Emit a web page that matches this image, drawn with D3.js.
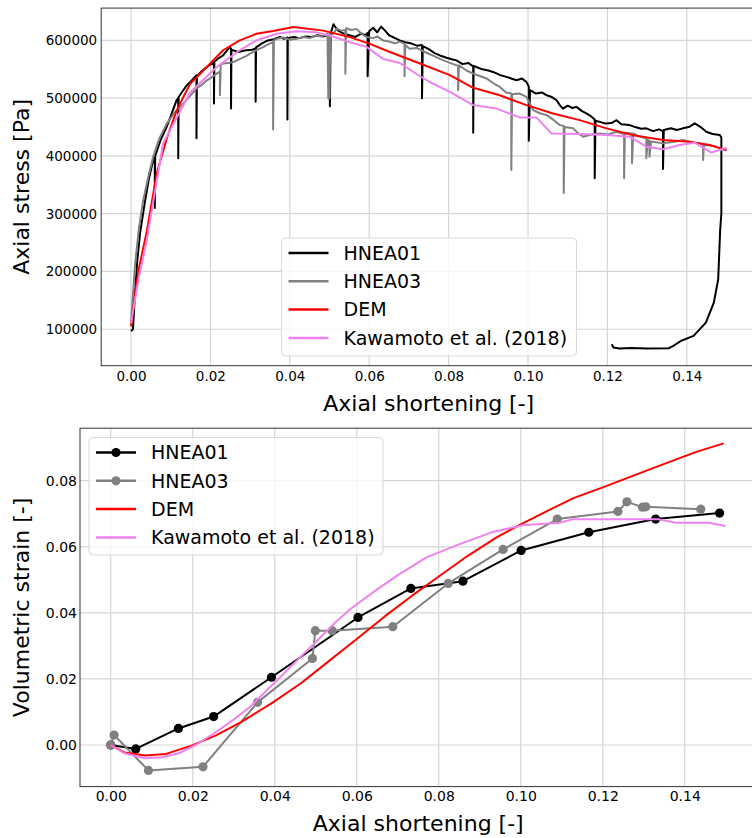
<!DOCTYPE html>
<html>
<head>
<meta charset="utf-8">
<script src="https://cdn.jsdelivr.net/npm/d3@7"></script>
<style>
  body { margin: 0; background: #fff; }
  svg text { font-family: "DejaVu Sans", sans-serif; fill: #000; }
</style>
</head>
<body>
<div id="chart"></div>
<script>
// ---- data: top panel, axial stress [Pa] vs axial shortening [-]
var stressHNEA01 = [
  [0.0000, 97000], [0.0005, 100000], [0.0010, 160000], [0.0016, 220000], [0.0023, 267000],
  [0.0035, 320000], [0.0045, 360000], [0.0056, 393000], [0.0060, 398000], [0.0060, 310000],
  [0.0061, 400000], [0.0075, 428000], [0.0090, 450500], [0.0105, 478000], [0.0115, 496500],
  [0.0119, 500000], [0.0119, 396000], [0.0120, 502000], [0.0130, 512000], [0.0140, 522000],
  [0.0152, 530000], [0.0165, 539700], [0.0165, 430500], [0.0166, 538000], [0.0180, 548000],
  [0.0195, 556000], [0.0209, 562000], [0.0209, 491000], [0.0210, 563000], [0.0222, 570000],
  [0.0232, 574000], [0.0248, 588000], [0.0252, 586000], [0.0252, 482000], [0.0253, 584000],
  [0.0270, 580000], [0.0290, 583000], [0.0305, 584000], [0.0314, 586000], [0.0314, 494000],
  [0.0315, 588000], [0.0330, 595000], [0.0345, 600000], [0.0360, 602000], [0.0375, 606000],
  [0.0385, 603000], [0.0394, 605000], [0.0394, 463000], [0.0395, 604000], [0.0410, 606000],
  [0.0425, 604000], [0.0440, 607000], [0.0455, 606000], [0.0470, 609000], [0.0485, 607000],
  [0.0500, 610000], [0.0501, 486000], [0.0503, 612000], [0.0510, 628000], [0.0520, 618000],
  [0.0535, 612000], [0.0550, 609000], [0.0565, 606000], [0.0580, 612000], [0.0590, 609000],
  [0.0596, 613000], [0.0596, 538000], [0.0600, 616000], [0.0610, 622000], [0.0620, 614000],
  [0.0630, 624000], [0.0640, 617000], [0.0650, 609000], [0.0665, 604000], [0.0677, 600000],
  [0.0690, 597000], [0.0705, 595000], [0.0720, 591000], [0.0733, 592000], [0.0733, 500000],
  [0.0735, 590000], [0.0750, 585000], [0.0765, 578000], [0.0778, 574000], [0.0795, 570000],
  [0.0810, 567000], [0.0820, 565500], [0.0835, 559000], [0.0850, 561000], [0.0862, 555000],
  [0.0862, 440000], [0.0863, 556000], [0.0870, 554000], [0.0885, 550000], [0.0900, 548000],
  [0.0912, 545500], [0.0930, 540000], [0.0950, 536000], [0.0971, 531000], [0.0985, 534000],
  [0.0996, 528000], [0.1002, 520000], [0.1002, 426500], [0.1005, 514000], [0.1020, 508000],
  [0.1035, 510000], [0.1047, 505000], [0.1060, 502000], [0.1072, 496500], [0.1080, 488000],
  [0.1088, 482000], [0.1100, 487000], [0.1112, 483000], [0.1122, 485000], [0.1135, 478000],
  [0.1147, 473600], [0.1160, 468000], [0.1168, 463000], [0.1168, 361500], [0.1170, 461000],
  [0.1181, 459000], [0.1195, 456000], [0.1210, 457000], [0.1223, 462000], [0.1235, 455000],
  [0.1256, 453400], [0.1270, 450000], [0.1285, 447000], [0.1298, 447800], [0.1315, 443000],
  [0.1330, 446000], [0.1340, 443000], [0.1340, 377500], [0.1342, 445000], [0.1360, 448000],
  [0.1375, 445000], [0.1390, 447800], [0.1405, 450000], [0.1420, 456400], [0.1435, 450000],
  [0.1449, 442000], [0.1465, 438000], [0.1483, 436200], [0.1487, 432000], [0.1487, 300000],
  [0.1484, 272000], [0.1479, 186000], [0.1468, 146000], [0.1448, 111500], [0.1417, 88500],
  [0.1386, 80000], [0.1366, 71300], [0.1355, 67200], [0.1300, 66500], [0.1260, 67500],
  [0.1230, 66800], [0.1215, 68400], [0.1211, 74000]
];
var stressHNEA03 = [
  [0.0000, 110000], [0.0004, 150000], [0.0010, 210000], [0.0020, 275000], [0.0031, 324000],
  [0.0045, 368000], [0.0056, 398800], [0.0070, 428000], [0.0090, 456000], [0.0110, 475000],
  [0.0132, 491000], [0.0150, 505000], [0.0165, 516700], [0.0180, 524000], [0.0191, 531000],
  [0.0205, 537000], [0.0216, 542500], [0.0224, 546000], [0.0224, 505000], [0.0226, 558000],
  [0.0232, 560000], [0.0245, 561000], [0.0258, 562600], [0.0275, 568000], [0.0290, 573000],
  [0.0300, 577000], [0.0315, 583000], [0.0333, 588500], [0.0350, 595000], [0.0358, 597000],
  [0.0358, 446000], [0.0360, 600000], [0.0367, 602800], [0.0385, 605000], [0.0400, 601000],
  [0.0417, 602800], [0.0435, 606000], [0.0450, 604000], [0.0467, 608600], [0.0480, 607000],
  [0.0495, 611500], [0.0497, 500000], [0.0499, 605000], [0.0500, 500000], [0.0502, 610000],
  [0.0510, 612000], [0.0518, 620000], [0.0530, 617000], [0.0540, 618000], [0.0540, 542500],
  [0.0542, 621000], [0.0555, 618000], [0.0568, 620000], [0.0580, 612000], [0.0593, 606000],
  [0.0610, 604000], [0.0620, 607000], [0.0635, 600000], [0.0650, 598000], [0.0665, 595000],
  [0.0677, 598000], [0.0689, 594000], [0.0689, 538000], [0.0691, 592000], [0.0702, 585700],
  [0.0720, 587000], [0.0740, 580000], [0.0760, 574000], [0.0778, 568000], [0.0800, 562000],
  [0.0824, 556000], [0.0824, 513800], [0.0826, 557000], [0.0845, 548000], [0.0862, 542500],
  [0.0880, 538000], [0.0896, 534000], [0.0915, 525000], [0.0929, 519500], [0.0945, 510000],
  [0.0958, 508000], [0.0958, 375900], [0.0960, 507000], [0.0979, 508000], [0.0996, 502300],
  [0.1005, 490000], [0.1013, 479300], [0.1030, 474000], [0.1047, 470700], [0.1065, 462000],
  [0.1080, 453400], [0.1090, 452000], [0.1090, 335700], [0.1092, 450000], [0.1114, 447800],
  [0.1125, 440000], [0.1139, 433300], [0.1160, 437000], [0.1181, 439000], [0.1200, 437000],
  [0.1223, 442000], [0.1242, 438000], [0.1242, 361500], [0.1244, 440000], [0.1262, 439000],
  [0.1262, 387400], [0.1265, 439000], [0.1280, 434000], [0.1298, 430500], [0.1298, 396000],
  [0.1302, 428000], [0.1306, 426000], [0.1306, 398800], [0.1310, 425000], [0.1340, 421800],
  [0.1365, 424000], [0.1390, 427600], [0.1415, 423000], [0.1432, 421800], [0.1441, 420000],
  [0.1441, 393100], [0.1443, 419000], [0.1460, 418000], [0.1475, 416000]
];
var stressDEM = [
  [0.0000, 105000], [0.0010, 160000], [0.0020, 205000], [0.0040, 270000], [0.0065, 370000],
  [0.0090, 430000], [0.0115, 479000], [0.0149, 525000], [0.0191, 554000], [0.0232, 583000],
  [0.0274, 600000], [0.0316, 611500], [0.0358, 616500], [0.0409, 623400], [0.0484, 617000],
  [0.0551, 605700], [0.0602, 594000], [0.0652, 580000], [0.0728, 560000], [0.0803, 540000],
  [0.0862, 518000], [0.0929, 505000], [0.0996, 488000], [0.1063, 473600], [0.1130, 462000],
  [0.1198, 447800], [0.1265, 436000], [0.1340, 427600], [0.1407, 424700], [0.1458, 419000],
  [0.1500, 410000]
];
var stressKawamoto = [
  [0.0000, 110000], [0.0020, 190000], [0.0040, 255000], [0.0081, 422000], [0.0149, 510000],
  [0.0216, 554000], [0.0274, 583000], [0.0316, 600000], [0.0367, 611500], [0.0417, 616000],
  [0.0467, 614000], [0.0501, 608600], [0.0551, 597000], [0.0593, 588800], [0.0635, 568000],
  [0.0677, 561000], [0.0728, 538000], [0.0761, 525000], [0.0803, 511000], [0.0862, 488000],
  [0.0921, 482000], [0.0979, 466700], [0.1021, 466700], [0.1059, 439000], [0.1130, 437900],
  [0.1198, 436200], [0.1256, 433300], [0.1298, 416000], [0.1340, 411500], [0.1382, 419000],
  [0.1420, 423000], [0.1462, 405700], [0.1500, 414300]
];

// ---- data: bottom panel, volumetric strain [-] vs axial shortening [-]
var volHNEA01 = [
  [0.0000, 0.0000], [0.0061, -0.0012], [0.0165, 0.0050], [0.0251, 0.0086], [0.0392, 0.0205],
  [0.0603, 0.0386], [0.0732, 0.0474], [0.0859, 0.0496], [0.1001, 0.0589], [0.1166, 0.0644],
  [0.1329, 0.0684], [0.1485, 0.0702]
];
var volHNEA03 = [
  [0.0000, 0.0000], [0.0008, 0.0030], [0.0092, -0.0077], [0.0225, -0.0066], [0.0358, 0.0129],
  [0.0492, 0.0262], [0.0499, 0.0346], [0.0540, 0.0346], [0.0688, 0.0358], [0.0823, 0.0489],
  [0.0957, 0.0592], [0.1089, 0.0684], [0.1237, 0.0707], [0.1259, 0.0736], [0.1297, 0.0720],
  [0.1305, 0.0721], [0.1439, 0.0714]
];
var volDEM = [
  [0.0000, 0.0000], [0.0033, -0.0023], [0.0084, -0.0032], [0.0135, -0.0027], [0.0197, -0.0002],
  [0.0258, 0.0030], [0.0320, 0.0071], [0.0392, 0.0126], [0.0464, 0.0187], [0.0525, 0.0247],
  [0.0597, 0.0318], [0.0669, 0.0390], [0.0735, 0.0452], [0.0800, 0.0510], [0.0870, 0.0572],
  [0.0940, 0.0628], [0.1000, 0.0668], [0.1070, 0.0712], [0.1130, 0.0748], [0.1200, 0.0780],
  [0.1270, 0.0813], [0.1350, 0.0851], [0.1430, 0.0888], [0.1495, 0.0913]
];
var volKawamoto = [
  [0.0000, 0.0000], [0.0033, -0.0025], [0.0084, -0.0040], [0.0125, -0.0037], [0.0166, -0.0025],
  [0.0207, 0.0000], [0.0258, 0.0040], [0.0299, 0.0076], [0.0340, 0.0116], [0.0382, 0.0167],
  [0.0423, 0.0217], [0.0464, 0.0268], [0.0505, 0.0318], [0.0546, 0.0369], [0.0587, 0.0414],
  [0.0653, 0.0474], [0.0705, 0.0518], [0.0770, 0.0568], [0.0851, 0.0608], [0.0932, 0.0645],
  [0.1005, 0.0665], [0.1094, 0.0673], [0.1126, 0.0683], [0.1337, 0.0683], [0.1378, 0.0673],
  [0.1459, 0.0673], [0.1499, 0.0663]
];

var seriesNames = ['HNEA01', 'HNEA03', 'DEM', 'Kawamoto et al. (2018)'];
var seriesColors = ['#000000', '#808080', '#ff0000', '#ee82ee'];

var xTicks = [0, 0.02, 0.04, 0.06, 0.08, 0.10, 0.12, 0.14];
var stressTicks = [100000, 200000, 300000, 400000, 500000, 600000];
var volTicks = [0, 0.02, 0.04, 0.06, 0.08];

var svg = d3.select('#chart').append('svg')
  .attr('width', 752)
  .attr('height', 838);

function drawPanel(p) {
  var g = svg.append('g');

  // grid
  g.selectAll('.vgrid').data(xTicks).enter().append('line')
    .attr('x1', d => p.x(d)).attr('x2', d => p.x(d))
    .attr('y1', p.y.range()[0]).attr('y2', p.y.range()[1])
    .attr('stroke', '#d6d6d6').attr('stroke-width', 1.2);
  g.selectAll('.hgrid').data(p.yTicks).enter().append('line')
    .attr('y1', d => p.y(d)).attr('y2', d => p.y(d))
    .attr('x1', p.x.range()[0]).attr('x2', p.x.range()[1])
    .attr('stroke', '#d6d6d6').attr('stroke-width', 1.2);

  // axes
  var xAxis = d3.axisBottom(p.x).tickValues(xTicks).tickSize(0)
    .tickPadding(p.xPad).tickFormat(d3.format('.2f'));
  var yAxis = d3.axisLeft(p.y).tickValues(p.yTicks).tickSize(0)
    .tickPadding(p.yPad).tickFormat(p.yFormat);

  g.append('g')
    .attr('transform', `translate(0, ${p.y.range()[0]})`)
    .call(xAxis)
    .call(a => a.select('.domain').remove())
    .selectAll('text').style('font-size', p.tickSize + 'px')
      .style('font-family', '"DejaVu Sans", sans-serif');
  g.append('g')
    .attr('transform', `translate(${p.x.range()[0]}, 0)`)
    .call(yAxis)
    .call(a => a.select('.domain').remove())
    .selectAll('text').style('font-size', p.tickSize + 'px')
      .style('font-family', '"DejaVu Sans", sans-serif');

  // lines
  var line = d3.line().x(d => p.x(d[0])).y(d => p.y(d[1]));
  p.series.forEach(function (s, i) {
    g.append('path')
      .datum(s)
      .attr('fill', 'none')
      .attr('stroke', seriesColors[i])
      .attr('stroke-width', 2)
      .attr('stroke-linejoin', 'round')
      .attr('d', line);
    if (p.markers[i]) {
      g.selectAll('.m' + i).data(s).enter().append('circle')
        .attr('cx', d => p.x(d[0]))
        .attr('cy', d => p.y(d[1]))
        .attr('r', 4.6)
        .attr('fill', seriesColors[i]);
    }
  });

  // spines
  g.append('rect')
    .attr('x', p.x.range()[0])
    .attr('y', p.y.range()[1])
    .attr('width', p.x.range()[1] - p.x.range()[0])
    .attr('height', p.y.range()[0] - p.y.range()[1])
    .attr('fill', 'none')
    .attr('stroke', '#333')
    .attr('stroke-width', 1);

  // axis labels
  g.append('text')
    .attr('x', (p.x.range()[0] + p.x.range()[1]) / 2)
    .attr('y', p.xLabelY)
    .attr('text-anchor', 'middle')
    .style('font-size', '22px')
    .text('Axial shortening [-]');
  g.append('text')
    .attr('transform', `translate(29, ${(p.y.range()[0] + p.y.range()[1]) / 2}) rotate(-90)`)
    .attr('text-anchor', 'middle')
    .style('font-size', '22px')
    .text(p.yLabel);

  // legend
  var lg = g.append('g').attr('transform', `translate(${p.legend.x}, ${p.legend.y})`);
  lg.append('rect')
    .attr('width', p.legend.w).attr('height', p.legend.h)
    .attr('rx', 4)
    .attr('fill', '#fff').attr('fill-opacity', 0.8)
    .attr('stroke', '#d9d9d9');
  seriesNames.forEach(function (name, i) {
    var cy = 15 + i * 28.3;
    lg.append('line')
      .attr('x1', 7).attr('x2', 47)
      .attr('y1', cy).attr('y2', cy)
      .attr('stroke', seriesColors[i]).attr('stroke-width', 2.5);
    if (p.markers[i]) {
      lg.append('circle').attr('cx', 27).attr('cy', cy).attr('r', 4.6)
        .attr('fill', seriesColors[i]);
    }
    lg.append('text')
      .attr('x', 62).attr('y', cy).attr('dy', '0.36em')
      .style('font-size', '19px')
      .text(name);
  });
}

drawPanel({
  x: d3.scaleLinear().domain([-0.0075, 0.1575]).range([101.2, 756.3]),
  y: d3.scaleLinear().domain([36850, 656000]).range([365.7, 8.1]),
  yTicks: stressTicks,
  yFormat: d3.format('d'),
  tickSize: 13.5,
  xPad: 5.5,
  yPad: 4,
  xLabelY: 411,
  yLabel: 'Axial stress [Pa]',
  series: [stressHNEA01, stressHNEA03, stressDEM, stressKawamoto],
  markers: [false, false, false, false],
  legend: { x: 281.5, y: 238, w: 295, h: 118 }
});

drawPanel({
  x: d3.scaleLinear().domain([-0.0075, 0.1575]).range([80, 756.5]),
  y: d3.scaleLinear().domain([-0.0126, 0.0959]).range([786.6, 428.2]),
  yTicks: volTicks,
  yFormat: d3.format('.2f'),
  tickSize: 14,
  xPad: 4,
  yPad: 3,
  xLabelY: 831,
  yLabel: 'Volumetric strain [-]',
  series: [volHNEA01, volHNEA03, volDEM, volKawamoto],
  markers: [true, true, false, false],
  legend: { x: 89, y: 437.5, w: 294, h: 117.5 }
});
</script>
</body>
</html>
